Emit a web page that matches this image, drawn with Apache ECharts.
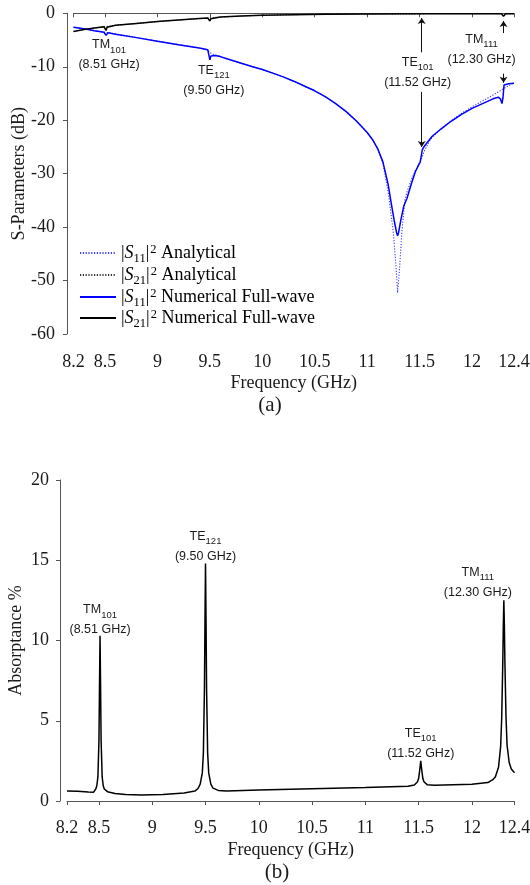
<!DOCTYPE html>
<html>
<head>
<meta charset="utf-8">
<script src="https://cdn.jsdelivr.net/npm/echarts@6/dist/echarts.min.js"></script>
<style>
  html, body { margin: 0; padding: 0; background: #fff; }
  #chart { width: 530px; height: 885px; }
</style>
</head>
<body>
<div id="chart"></div>
<script>
// Shared frequency tick positions (GHz)
const freqTicks = [8.2, 8.5, 9, 9.5, 10, 10.5, 11, 11.5, 12, 12.4];

// (a) |S11|^2, numerical full-wave (dB)
const s11NumFreq = [8.2, 8.3, 8.4, 8.49, 8.5, 8.51, 8.52, 8.53, 8.6, 8.8, 9.0, 9.2, 9.4, 9.48, 9.49, 9.5, 9.505, 9.51, 9.52, 9.55, 9.6, 9.7, 9.8, 9.9, 10.0, 10.1, 10.2, 10.3, 10.4, 10.5, 10.6, 10.7, 10.8, 10.9, 11.0, 11.05, 11.1, 11.15, 11.2, 11.23, 11.26, 11.28, 11.29, 11.3, 11.32, 11.35, 11.38, 11.42, 11.46, 11.49, 11.505, 11.515, 11.525, 11.54, 11.58, 11.62, 11.7, 11.8, 11.9, 12.0, 12.1, 12.2, 12.25, 12.27, 12.285, 12.295, 12.305, 12.32, 12.35, 12.4];
const s11NumDb = [-2.6, -2.9, -3.25, -3.55, -3.75, -4.1, -3.75, -3.65, -3.9, -4.55, -5.25, -5.9, -6.5, -6.8, -7.1, -8.7, -8.5, -8.0, -7.8, -7.9, -8.1, -8.75, -9.35, -9.95, -10.5, -11.2, -11.9, -12.7, -13.6, -14.5, -15.6, -16.9, -18.4, -20.2, -22.3, -23.6, -25.3, -27.8, -32.0, -35.6, -39.0, -41.0, -41.6, -41.0, -38.8, -36.0, -34.6, -32.0, -29.6, -28.4, -27.9, -26.8, -25.6, -25.0, -24.0, -23.0, -21.7, -20.2, -18.9, -17.8, -16.9, -16.0, -15.7, -16.0, -16.9, -15.8, -13.4, -13.2, -13.2, -13.1];

// (a) |S11|^2, analytical (dB)
const s11AnaFreq = [8.2, 8.4, 8.6, 8.8, 9.0, 9.2, 9.4, 9.48, 9.5, 9.52, 9.6, 9.7, 9.8, 9.9, 10.0, 10.1, 10.2, 10.3, 10.4, 10.5, 10.6, 10.7, 10.8, 10.9, 11.0, 11.05, 11.1, 11.15, 11.2, 11.21, 11.25, 11.275, 11.29, 11.31, 11.33, 11.36, 11.38, 11.42, 11.46, 11.5, 11.52, 11.54, 11.58, 11.62, 11.7, 11.8, 11.9, 12.0, 12.1, 12.2, 12.3, 12.4];
const s11AnaDb = [-2.6, -3.25, -3.85, -4.5, -5.2, -5.85, -6.5, -6.85, -7.3, -7.6, -8.1, -8.75, -9.35, -9.95, -10.5, -11.2, -11.9, -12.7, -13.6, -14.5, -15.6, -16.9, -18.4, -20.2, -22.3, -23.6, -25.3, -28.0, -33.5, -34.9, -41.1, -47.4, -52.3, -47.4, -41.1, -34.9, -33.4, -31.2, -29.4, -27.9, -27.1, -26.0, -24.4, -23.2, -21.7, -20.1, -18.7, -17.5, -16.4, -15.3, -14.1, -13.0];

// (a) |S21|^2, numerical full-wave (dB)
const s21NumFreq = [8.2, 8.3, 8.4, 8.49, 8.5, 8.51, 8.52, 8.53, 8.6, 8.8, 9.0, 9.2, 9.4, 9.48, 9.49, 9.5, 9.51, 9.52, 9.6, 9.8, 10.0, 10.3, 10.6, 11.0, 11.5, 12.0, 12.28, 12.29, 12.3, 12.31, 12.32, 12.4];
const s21NumDb = [-3.4, -3.05, -2.75, -2.5, -2.65, -3.2, -2.6, -2.4, -2.25, -1.9, -1.55, -1.25, -0.98, -0.88, -1.0, -1.45, -1.0, -0.8, -0.7, -0.5, -0.35, -0.25, -0.18, -0.13, -0.1, -0.08, -0.08, -0.25, -0.55, -0.25, -0.1, -0.08];

// (a) |S21|^2, analytical (dB)
const s21AnaFreq = [8.2, 8.3, 8.4, 8.5, 8.6, 8.8, 9.0, 9.2, 9.4, 9.5, 9.6, 9.8, 10.0, 10.3, 10.6, 11.0, 11.5, 12.0, 12.4];
const s21AnaDb = [-3.4, -3.05, -2.75, -2.5, -2.25, -1.9, -1.55, -1.25, -0.98, -0.85, -0.7, -0.5, -0.35, -0.25, -0.18, -0.13, -0.1, -0.08, -0.07];

// (b) absorptance (%)
const absFreq = [8.2, 8.3, 8.4, 8.45, 8.47, 8.48, 8.49, 8.5, 8.505, 8.51, 8.515, 8.52, 8.53, 8.54, 8.55, 8.58, 8.65, 8.75, 8.9, 9.1, 9.3, 9.4, 9.43, 9.45, 9.47, 9.48, 9.49, 9.495, 9.5, 9.505, 9.51, 9.52, 9.53, 9.55, 9.57, 9.62, 9.7, 10.0, 10.5, 11.0, 11.4, 11.46, 11.49, 11.5, 11.51, 11.52, 11.53, 11.54, 11.55, 11.58, 11.65, 12.0, 12.15, 12.2, 12.22, 12.25, 12.27, 12.28, 12.29, 12.295, 12.3, 12.305, 12.31, 12.32, 12.33, 12.35, 12.37, 12.4];
const absPct = [0.62, 0.6, 0.56, 0.55, 0.75, 0.95, 1.5, 3.8, 7.2, 10.3, 7.2, 3.8, 1.5, 0.95, 0.75, 0.58, 0.47, 0.4, 0.37, 0.4, 0.5, 0.62, 0.78, 1.05, 1.75, 3.0, 7.0, 11.2, 14.8, 11.2, 7.0, 3.0, 1.75, 1.05, 0.8, 0.66, 0.62, 0.68, 0.77, 0.84, 0.92, 1.0, 1.2, 1.4, 1.9, 2.5, 1.9, 1.4, 1.2, 1.02, 0.98, 1.05, 1.15, 1.35, 1.5, 2.1, 3.4, 5.2, 8.6, 10.9, 12.5, 10.9, 8.6, 5.3, 3.5, 2.4, 2.0, 1.76];

// Resonant modes marked on both panels
const modeNames = ['TM', 'TE', 'TE', 'TM'];
const modeIndices = ['101', '121', '101', '111'];
const modeGhz = [8.51, 9.50, 11.52, 12.30];

const serif = '"Liberation Serif", "Times New Roman", serif';
const sans = '"Liberation Sans", Arial, sans-serif';
const axisGray = '#555';
const textColor = '#1a1a1a';

const zip = (xs, ys) => xs.map((x, i) => [x, ys[i]]);

// Mode annotation: "TM101" with subscript, then "(8.51 GHz)" on the next line
const modeRich = {
  b: { fontFamily: sans, fontSize: 12.5, color: textColor, lineHeight: 20 },
  s: { fontFamily: sans, fontSize: 9.5, color: textColor, lineHeight: 20, verticalAlign: 'top', padding: [10, 0, 0, 0] }
};
const modeText = i => `{b|${modeNames[i]}}{s|${modeIndices[i]}}\n{b|(${modeGhz[i].toFixed(2)} GHz)}`;
const modeMark = (i, y, dx) => ({
  coord: [modeGhz[i], y],
  label: { formatter: modeText(i), offset: [dx, 0] }
});

// Legend entries: |S_xx|^2 in math style
const legendRich = {
  n: { fontFamily: serif, fontSize: 18, color: '#000', lineHeight: 20 },
  i: { fontFamily: serif, fontSize: 18, fontStyle: 'italic', color: '#000', lineHeight: 20 },
  sub: { fontFamily: serif, fontSize: 12.5, color: '#000', lineHeight: 20, verticalAlign: 'top', padding: [9, 0, 0, 0] },
  sup: { fontFamily: serif, fontSize: 12.5, color: '#000', lineHeight: 20, verticalAlign: 'top', padding: [0, 0, 0, 1] }
};
const legendNames = {
  's11a': ['11', ' Analytical'],
  's21a': ['21', ' Analytical'],
  's11n': ['11', ' Numerical Full-wave'],
  's21n': ['21', ' Numerical Full-wave']
};
const legendText = name => {
  const [idx, rest] = legendNames[name];
  return `{n||}{i|S}{sub|${idx}}{n||}{sup|2}{n|${rest}}`;
};
const legendRowTops = [243, 265, 287, 308];
const legends = ['s11a', 's21a', 's11n', 's21n'].map((name, k) => ({
  data: [name],
  left: 79,
  top: legendRowTops[k],
  padding: 0,
  itemWidth: 36,
  itemHeight: 14,
  itemStyle: { opacity: 0 },
  formatter: legendText,
  textStyle: { rich: legendRich },
  selectedMode: false
}));

const axisCommon = {
  axisLine: { show: true, lineStyle: { color: axisGray, width: 1 } },
  axisTick: { show: true, length: 4, lineStyle: { color: axisGray } },
  splitLine: { show: false },
  nameTextStyle: { fontFamily: serif, fontSize: 18, color: textColor },
  nameLocation: 'middle',
  nameMoveOverlap: false
};

const freqAxis = (gridIndex, offset, nameGap) => Object.assign({}, axisCommon, {
  type: 'value',
  gridIndex,
  min: 8.2,
  max: 12.4,
  offset,
  name: 'Frequency (GHz)',
  nameGap,
  axisTick: { show: true, length: 4, lineStyle: { color: axisGray }, customValues: freqTicks },
  axisLabel: {
    customValues: freqTicks,
    margin: 11,
    fontFamily: serif,
    fontSize: 18,
    color: textColor,
    formatter: v => String(v)
  }
});

const arrowLine = (f, y0, y1) => [{ coord: [f, y0] }, { coord: [f, y1] }];

const option = {
  animation: false,
  backgroundColor: '#fff',
  grid: [
    { left: 73.5, top: 13.3, width: 440.5, height: 320.7, outerBoundsMode: 'none', containLabel: false },
    { left: 67, top: 480, width: 447.5, height: 321, outerBoundsMode: 'none', containLabel: false }
  ],
  xAxis: [
    freqAxis(0, 8, 32),
    freqAxis(1, 7, 33)
  ],
  yAxis: [
    Object.assign({}, axisCommon, {
      type: 'value', gridIndex: 0, min: -60, max: 0, interval: 10, offset: 6.5,
      name: 'S-Parameters (dB)', nameRotate: 90, nameGap: 39,
      axisLabel: { margin: 12, fontFamily: serif, fontSize: 18, color: textColor }
    }),
    Object.assign({}, axisCommon, {
      type: 'value', gridIndex: 1, min: 0, max: 20, interval: 5, offset: 7,
      name: 'Absorptance %', nameRotate: 90, nameGap: 35,
      axisLabel: { margin: 11, fontFamily: serif, fontSize: 18, color: textColor }
    })
  ],
  legend: legends,
  series: [
    {
      name: 's11a', type: 'line', xAxisIndex: 0, yAxisIndex: 0,
      data: zip(s11AnaFreq, s11AnaDb), symbol: 'none', silent: true,
      lineStyle: { color: '#3c3cff', width: 1.1, type: [1.2, 1.6] },
      itemStyle: { color: '#3c3cff' }, z: 2
    },
    {
      name: 's21a', type: 'line', xAxisIndex: 0, yAxisIndex: 0,
      data: zip(s21AnaFreq, s21AnaDb), symbol: 'none', silent: true,
      lineStyle: { color: '#333', width: 1.1, type: [1.2, 1.6] },
      itemStyle: { color: '#333' }, z: 2
    },
    {
      name: 's11n', type: 'line', xAxisIndex: 0, yAxisIndex: 0,
      data: zip(s11NumFreq, s11NumDb), symbol: 'none', silent: true,
      lineStyle: { color: '#0000ff', width: 1.5 },
      itemStyle: { color: '#0000ff' }, z: 3
    },
    {
      name: 's21n', type: 'line', xAxisIndex: 0, yAxisIndex: 0,
      data: zip(s21NumFreq, s21NumDb), symbol: 'none', silent: true,
      lineStyle: { color: '#000', width: 1.5 },
      itemStyle: { color: '#000' }, z: 3,
      markPoint: {
        symbol: 'circle', symbolSize: 0, silent: true,
        label: { show: true, position: 'inside', rich: modeRich },
        data: [
          modeMark(0, -7.8, 3),
          modeMark(1, -12.5, 4),
          modeMark(2, -11.0, -4),
          modeMark(3, -6.8, -22)
        ]
      },
      markLine: {
        silent: true,
        symbol: ['none', 'arrow'],
        symbolSize: 6,
        label: { show: false },
        lineStyle: { color: '#111', width: 1, type: 'solid' },
        emphasis: { disabled: true },
        data: [
          arrowLine(modeGhz[2], -7.3, -0.9),
          arrowLine(modeGhz[2], -14.7, -25.0),
          arrowLine(modeGhz[3], -3.7, -1.45),
          arrowLine(modeGhz[3], -11.3, -13.0)
        ]
      }
    },
    {
      name: 'absorptance', type: 'line', xAxisIndex: 1, yAxisIndex: 1,
      data: zip(absFreq, absPct), symbol: 'none', silent: true,
      lineStyle: { color: '#000', width: 1.5 },
      itemStyle: { color: '#000' },
      markPoint: {
        symbol: 'circle', symbolSize: 0, silent: true,
        label: { show: true, position: 'inside', rich: modeRich },
        data: [
          modeMark(0, 11.28, 0),
          modeMark(1, 15.84, 0),
          modeMark(2, 3.58, 0),
          modeMark(3, 13.62, -26)
        ]
      }
    }
  ],
  graphic: [
    { type: 'text', x: 270, y: 405, style: { text: '(a)', font: '21px ' + serif, fill: textColor, align: 'center', verticalAlign: 'middle' } },
    { type: 'text', x: 277, y: 872, style: { text: '(b)', font: '21px ' + serif, fill: textColor, align: 'center', verticalAlign: 'middle' } }
  ]
};

const chart = echarts.init(document.getElementById('chart'), null, { renderer: 'canvas' });
chart.setOption(option);
</script>
</body>
</html>
